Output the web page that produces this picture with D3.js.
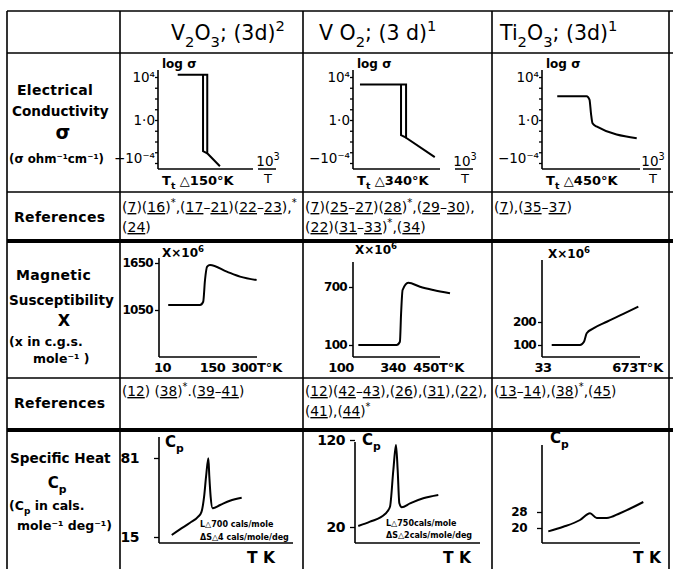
<!DOCTYPE html>
<html><head><meta charset="utf-8">
<script src="https://cdn.jsdelivr.net/npm/d3@7"></script>
<style>
body{margin:0;background:#fff}
svg{display:block}
text{font-family:"DejaVu Sans",sans-serif;fill:#000}
</style></head>
<body><svg id="c" width="673" height="569"></svg>
<script>
// ---------- DATA ----------
const headerParts = [
  [["V"],["2","sub"],["O"],["3","sub"],["; (3d)"],["2","sup"]],
  [["V O"],["2","sub"],["; (3 d)"],["1","sup"]],
  [["Ti"],["2","sub"],["O"],["3","sub"],["; (3d)"],["1","sup"]]
];
const rowLabelCond = ["Electrical","Conductivity","σ","(σ ohm⁻¹cm⁻¹)"];
const rowLabelMag = ["Magnetic","Susceptibility","X","(x in c.g.s.","mole⁻¹ )"];
const rowLabelHeat = ["Specific Heat","C|p","(C|p in cals.","mole⁻¹ deg⁻¹)"];
const refsCond = [
  ["(7)(16)*,(17–21)(22–23),*","(24)"],
  ["(7)(25–27)(28)*,(29–30),","(22)(31–33)*,(34)"],
  ["(7),(35–37)"]
];
const refsMag = [
  ["(12) (38)*.(39–41)"],
  ["(12)(42–43),(26),(31),(22),","(41),(44)*"],
  ["(13–14),(38)*,(45)"]
];

// Electrical conductivity: x = 10^3/T, y = log10(sigma)
const condTicks = [-4,-3,-2,-1,0,1,2,3,4];
const condLabelVals = [4,0,-4];
const condLabelText = ["10⁴","1·0","−10⁻⁴"];
const condTt = ["150","340","450"];
const condV2O3A = [[2.8,4.2],[7.0,4.2],[7.0,-3.1],[8.8,-4.3]];
const condV2O3B = [[6.4,4.2],[6.4,-2.9],[7.0,-3.1]];
const condVO2A = [[0.4,3.3],[3.05,3.3],[3.05,-1.65],[4.7,-3.45]];
const condVO2B = [[2.76,3.3],[2.76,-1.4],[3.05,-1.65]];
const condTi2O3X = [0.7,2.05,2.18,2.25,2.32,2.5,4.35];
const condTi2O3Y = [2.2,2.2,1.9,0.6,-0.3,-0.6,-1.7];

// Magnetic susceptibility: x = T (K), y = chi x 10^6
const magXTicks = [[10,150,300],[100,340,450],[33,673]];
const magYTicks = [[1050,1650],[100,700],[100,200]];
const magV2O3T = [26,115,124,129,135,143,218,281,360];
const magV2O3C = [1114,1114,1156,1433,1603,1625,1540,1476,1433];
const magVO2T = [180,352,363,367,372,391,430,474,530];
const magVO2C = [100,100,134,428,669,744,703,669,635];
const magTi2O3T = [101,322,353,374,426,531,660,777];
const magTi2O3C = [100,100,114,151,172,201,235,267];

// Specific heat: x = T (K, no scale shown), y = Cp
const heatYTicks = [[15,81],[20,120],[20,28]];
const heatV2O3T = [39,64,95,120,130,138,144,151,154,158,164,187,217,253];
const heatV2O3C = [16.7,21.4,26.9,32,36,48.7,65.4,80.7,65.4,48.7,39,41.7,45.3,47.8];
const heatVO2T = [27,125,250,291,319,341,355,369,389,458,568,693];
const heatVO2C = [21.1,26.1,34.9,43.3,85.5,114.3,85.5,47.2,42.6,47.2,53,56.8];
const heatTi2O3T = [59,200,357,451,514,608,732,951];
const heatTi2O3C = [18.3,20.6,24,27.4,25,25,27.4,33];
const heatNotes = [["L△700 cals/mole","ΔS△4 cals/mole/deg"],["L△750cals/mole","ΔS△2cals/mole/deg"],null];

// ---------- DRAWING ----------
const svg = d3.select("#c");

function rich(x, y, segs, o = {}) {
  const fs = o.size || 12;
  const t = svg.append("text").attr("x", x).attr("y", y)
    .attr("font-size", fs).attr("font-weight", o.weight || "normal")
    .attr("text-anchor", o.anchor || "start");
  if (o.ls) t.attr("letter-spacing", o.ls);
  if (typeof segs === "string") segs = [[segs]];
  let shift = 0;
  segs.forEach(s => {
    const [str, kind] = s;
    const ts = t.append("tspan").text(str);
    let target = 0, size = fs;
    if (kind === "sub") { target = fs * 0.32; size = fs * 0.72; }
    else if (kind === "sup") { target = -fs * 0.42; size = fs * 0.72; }
    else if (kind === "ul") { ts.attr("text-decoration", "underline"); }
    ts.attr("dy", target - shift).attr("font-size", size);
    shift = target;
  });
  return t;
}
function parseSub(str) {
  const out = [];
  const parts = str.split("|");
  out.push([parts[0]]);
  for (let i = 1; i < parts.length; i++) {
    out.push([parts[i][0], "sub"]);
    if (parts[i].length > 1) out.push([parts[i].slice(1)]);
  }
  return out;
}
function refSegs(str) {
  const segs = [];
  const re = /(\d+)|(\*)|([^\d*]+)/g;
  let m;
  while ((m = re.exec(str))) {
    if (m[1]) segs.push([m[1], "ul"]);
    else if (m[2]) segs.push(["*", "sup"]);
    else segs.push([m[3]]);
  }
  return segs;
}
function ln(x1, y1, x2, y2, w) {
  svg.append("line").attr("x1", x1).attr("y1", y1).attr("x2", x2).attr("y2", y2)
    .attr("stroke", "#000").attr("stroke-width", w || 1.5);
}

// ---- table grid ----
const colX = [7, 120, 303, 492, 669];
const rowY = [11, 53, 192, 241, 378, 430];
[rowY[0], rowY[1], rowY[2], rowY[4]].forEach(y => ln(colX[0], y, 673, y, 1.6));
[rowY[3], rowY[5]].forEach(y => ln(colX[0], y, 673, y, 3.8));
colX.forEach(x => ln(x, rowY[0], x, 569, 1.6));

// ---- header ----
const headerX = [171, 319, 500];
headerParts.forEach((p, i) => rich(headerX[i], 40, p, {size: 20.5}));

// ---- left labels ----
const lb = {size: 14, weight: "bold", ls: 0.3};
const lbn = {size: 13.6, weight: "bold"};
const lbs = {size: 12.5, weight: "bold"};
rich(17, 95, rowLabelCond[0], lb);
rich(12, 116, rowLabelCond[1], lbn);
rich(63, 139, rowLabelCond[2], {size: 19, weight: "bold", anchor: "middle"});
rich(9, 163, rowLabelCond[3], {size: 11.8, weight: "bold"});
rich(14, 222, "References", lb);
rich(16, 280, rowLabelMag[0], lb);
rich(9, 305, rowLabelMag[1], lbn);
rich(64, 326, rowLabelMag[2], {size: 16, weight: "bold", anchor: "middle"});
rich(9, 346, rowLabelMag[3], lbs);
rich(33, 363, rowLabelMag[4], lbs);
rich(14, 408, "References", lb);
rich(10, 463, rowLabelHeat[0], lbn);
rich(57, 488, parseSub(rowLabelHeat[1]), {size: 15, weight: "bold", anchor: "middle"});
rich(9, 510, parseSub(rowLabelHeat[2]), lbs);
rich(17, 530, rowLabelHeat[3], lbs);

// ---- references ----
const refX = [122, 305, 494];
refsCond.forEach((lines, i) => lines.forEach((l, j) =>
  rich(refX[i], 212 + j * 20, refSegs(l), {size: 14})));
refsMag.forEach((lines, i) => lines.forEach((l, j) =>
  rich(refX[i], 396 + j * 20, refSegs(l), {size: 13.7})));

const pathStyle = sel => sel.attr("fill", "none").attr("stroke", "#000").attr("stroke-width", 2);

// ---- conductivity panels ----
const condY = d3.scaleLinear().domain([-4, 4]).range([163, 77]);
const condPanels = [
  {ax: 158, xEnd: 253, dom: [0, 13.5], fx: 268},
  {ax: 353, xEnd: 440, dom: [0, 5], fx: 465},
  {ax: 542, xEnd: 640, dom: [0, 4.5], fx: 653}
];
const condData = [
  {lines: [condV2O3A, condV2O3B], curve: d3.curveLinear},
  {lines: [condVO2A, condVO2B], curve: d3.curveLinear},
  {lines: [d3.zip(condTi2O3X, condTi2O3Y)], curve: d3.curveMonotoneX}
];
condPanels.forEach((p, i) => {
  const x = d3.scaleLinear().domain(p.dom).range([p.ax, p.xEnd]);
  const g = svg.append("g").attr("transform", `translate(${p.ax},0)`)
    .call(d3.axisLeft(condY).tickValues(condTicks).tickSize(3).tickSizeOuter(0).tickFormat(""));
  g.select(".domain").remove();
  g.selectAll(".tick line").attr("stroke-width", 1.3);
  ln(p.ax, 70, p.ax, 169, 1.6);
  ln(p.ax, 169, p.xEnd, 169, 1.6);
  condLabelVals.forEach((v, k) =>
    rich(p.ax - 3, condY(v) + (k === 2 ? 0 : 5), condLabelText[k], {size: 13.5, anchor: "end"}));
  rich(p.ax + 4, 68, [["log σ"]], {size: 12, weight: "bold"});
  rich(p.ax + 4, 185, [["T"],["t","sub"],[" △"+condTt[i]+"°K"]], {size: 13, weight: "bold"});
  rich(p.fx, 166, [["10"],["3","sup"]], {size: 13.5, anchor: "middle"});
  ln(p.fx - 10, 169, p.fx + 8, 169, 1.5);
  rich(p.fx, 183, "T", {size: 13, anchor: "middle"});
  const line = d3.line().x(d => x(d[0])).y(d => condY(d[1])).curve(condData[i].curve);
  condData[i].lines.forEach(L => svg.append("path").attr("d", line(L)).call(pathStyle));
});

// ---- magnetic panels ----
const magPanels = [
  {ax: 159, top: 258, bottom: 357, xEnd: 257, xr: [162.5, 212.5, 244], yr: [310, 263]},
  {ax: 353, top: 262, bottom: 357, xEnd: 440, xr: [341, 393, 426], yr: [345, 287]},
  {ax: 542, top: 260, bottom: 357, xEnd: 640, xr: [543, 625], yr: [345, 322]}
];
const magData = [[magV2O3T, magV2O3C], [magVO2T, magVO2C], [magTi2O3T, magTi2O3C]];
const chiLabelPos = [[162, 257], [355, 254], [548, 258]];
magPanels.forEach((p, i) => {
  const x = d3.scaleLinear().domain(magXTicks[i]).range(p.xr);
  const y = d3.scaleLinear().domain(magYTicks[i]).range(p.yr);
  const g = svg.append("g").attr("transform", `translate(${p.ax},0)`)
    .call(d3.axisLeft(y).tickValues(magYTicks[i]).tickSize(4).tickSizeOuter(0).tickPadding(2)
      .tickFormat(d3.format("d")));
  g.select(".domain").remove();
  g.selectAll(".tick line").attr("stroke-width", 1.3);
  g.selectAll("text").attr("font-size", 12).attr("font-weight", "bold")
    .attr("font-family", "DejaVu Sans").attr("letter-spacing", -0.7);
  ln(p.ax, p.top, p.ax, p.bottom, 1.6);
  ln(p.ax, p.bottom, p.xEnd, p.bottom, 1.6);
  const ticks = magXTicks[i];
  ticks.forEach(v => rich(x(v), 372, String(v), {size: 13, weight: "bold", anchor: "middle", ls: -0.6}));
  rich(x(ticks[ticks.length - 1]) + 13, 372, "T°K", {size: 13, weight: "bold"});
  rich(chiLabelPos[i][0], chiLabelPos[i][1], [["X×10"],["6","sup"]], {size: 12, weight: "bold"});
  const line = d3.line().x((d, k) => x(magData[i][0][k])).y(d => y(d)).curve(d3.curveMonotoneX);
  svg.append("path").attr("d", line(magData[i][1])).call(pathStyle);
});

// ---- specific heat panels ----
const heatPanels = [
  {ax: 159, top: 437, bottom: 543, xEnd: 293, xdom: [0, 410], yr: [537, 458], lab: 15, tk: 261, fs: 14},
  {ax: 355, top: 442, bottom: 543, xEnd: 480, xdom: [0, 1040], yr: [527, 440], lab: 5, tk: 457, fs: 14},
  {ax: 542, top: 445, bottom: 543, xEnd: 640, xdom: [0, 920], yr: [528, 512], lab: 10, tk: 647, fs: 12}
];
const heatData = [[heatV2O3T, heatV2O3C], [heatVO2T, heatVO2C], [heatTi2O3T, heatTi2O3C]];
const cpPos = [[165, 447], [362, 445], [550, 443]];
const notePos = [[200, 527, 540], [386, 526, 538]];
heatPanels.forEach((p, i) => {
  const x = d3.scaleLinear().domain(p.xdom).range([p.ax, p.xEnd]);
  const y = d3.scaleLinear().domain(heatYTicks[i]).range(p.yr);
  const g = svg.append("g").attr("transform", `translate(${p.ax},0)`)
    .call(d3.axisLeft(y).tickValues(heatYTicks[i]).tickSize(5).tickSizeOuter(0).tickPadding(p.lab)
      .tickFormat(d3.format("d")));
  g.select(".domain").remove();
  g.selectAll(".tick line").attr("stroke-width", 1.3);
  g.selectAll("text").attr("font-size", p.fs).attr("font-weight", "bold")
    .attr("font-family", "DejaVu Sans").attr("letter-spacing", -0.5);
  ln(p.ax, p.top, p.ax, p.bottom, 1.6);
  ln(p.ax, p.bottom, p.xEnd, p.bottom, 1.6);
  rich(cpPos[i][0], cpPos[i][1], [["C"],["p","sub"]], {size: 15, weight: "bold"});
  rich(p.tk, 563, "T  K", {size: 15.5, weight: "bold", anchor: "middle"});
  if (heatNotes[i]) {
    rich(notePos[i][0], notePos[i][1], heatNotes[i][0], {size: 8, weight: "bold"});
    rich(notePos[i][0], notePos[i][2], heatNotes[i][1], {size: 8, weight: "bold"});
  }
  const line = d3.line().x((d, k) => x(heatData[i][0][k])).y(d => y(d)).curve(d3.curveMonotoneX);
  svg.append("path").attr("d", line(heatData[i][1])).call(pathStyle);
});
</script>
</body></html>
